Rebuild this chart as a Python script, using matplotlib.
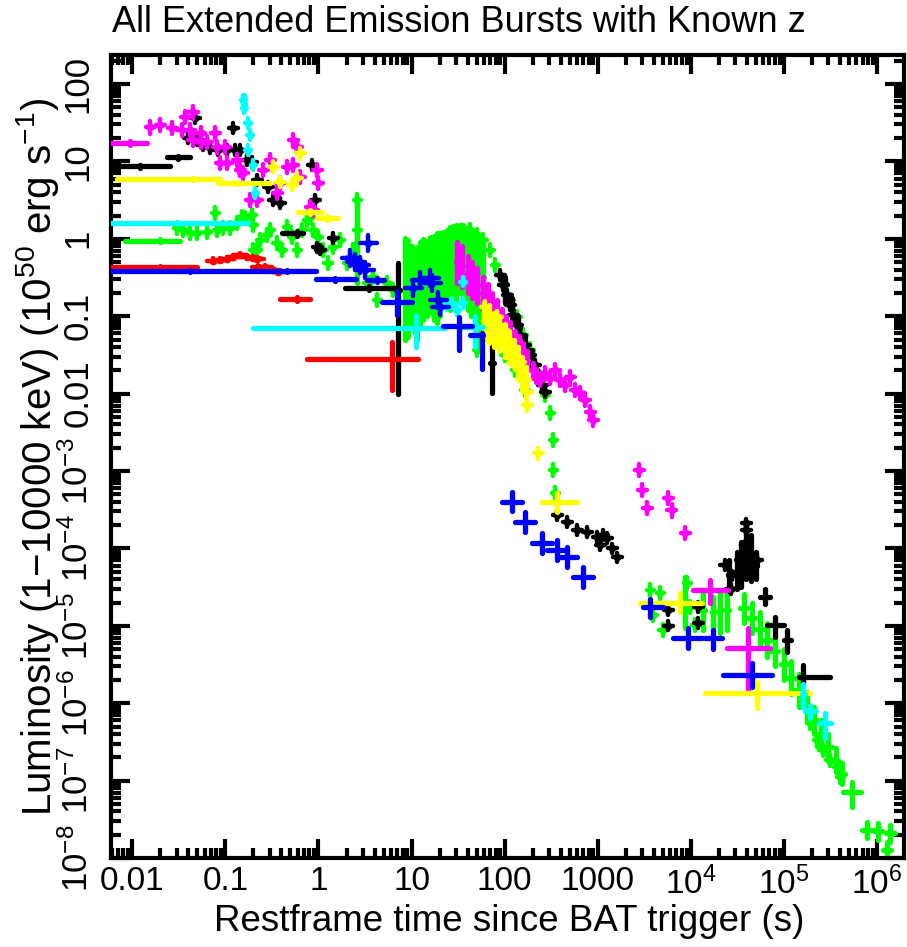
import numpy as np
import matplotlib
matplotlib.use('Agg')
import matplotlib.pyplot as plt
from matplotlib.ticker import LogLocator, FixedLocator, FuncFormatter, NullFormatter

plt.rcParams['font.family'] = ['Liberation Sans', 'DejaVu Sans']
plt.rcParams['mathtext.fontset'] = 'custom'
plt.rcParams['mathtext.rm'] = 'Liberation Sans'
plt.rcParams['mathtext.it'] = 'Liberation Sans:italic'
plt.rcParams['mathtext.bf'] = 'Liberation Sans:bold'
plt.rcParams['mathtext.default'] = 'regular'

# ---- data: dense points (t [s], L [1e50 erg/s]) and binned crosses
# bars: (t, t_lo, t_hi, L, L_lo, L_hi)
# *_err: typical half size of the small error bars (dex in t, dex in L)

black_pts = [
    (0.0475, 36.4), (0.122, 27), (0.040, 20), (0.050, 18.9), (0.058, 16.3), (0.069, 14.9),
    (0.084, 14.0), (0.105, 14.0), (0.128, 14.0), (0.145, 14.0), (0.172, 10.4), (0.194, 9.8),
    (0.22, 5.75), (0.289, 4.67), (0.327, 3.17), (0.389, 2.9), (0.858, 9.0), (0.924, 3.17),
    (0.97, 0.78), (1.045, 0.72), (1.44, 1.02),
    (89.8, 0.34), (96.6, 0.253), (107, 0.188), (115, 0.14), (124, 0.104), (137, 0.077),
    (147, 0.057), (166, 0.042), (188, 0.0315), (213, 0.0234), (230, 0.0174), (253, 0.0129),
    (273, 0.0105),
    (367, 2.7e-4), (470, 2.2e-4), (602, 1.73e-4), (771, 1.63e-4), (989, 1.40e-4), (1064, 1.1e-4),
    (1150, 1.49e-4), (1265, 1.36e-4), (1430, 1.0e-4), (1620, 7.7e-5),
    (5720, 1.6e-5), (5720, 1.0e-5), (1.2e4, 1.75e-5), (1.2e4, 1.09e-5),
    (2.3e4, 6.1e-5), (2.7e4, 3.0e-5), (2.8e4, 4.5e-5), (3.4e4, 7.1e-5), (3.6e4, 4.5e-5),
    (3.84e4, 1.1e-4), (3.94e4, 1.73e-4), (3.94e4, 2.1e-4), (4.35e4, 8.2e-5), (4.68e4, 6.1e-5),
    (5.17e4, 7.1e-5),
]
black_bars = [
    (0.0312, 0.0238, 0.042, 11.4, 10.9, 11.9),
    (0.0122, 0.0059, 0.0256, 8.7, 8.3, 9.1),
    (0.59, 0.408, 0.687, 1.19, 1.1, 1.28),
    (3.5, 1.94, 7.0, 0.231, 0.215, 0.248),
    (7.2, 6.8, 7.6, 0.22, 0.0098, 0.49),
    (73, 70, 76, 0.025, 0.0102, 0.061),
    (100, 97, 103, 0.22, 0.15, 0.32),
    (120, 116, 124, 0.12, 0.085, 0.17),
    (140, 135, 145, 0.07, 0.05, 0.1),
    (165, 159, 171, 0.042, 0.03, 0.058),
    (195, 188, 202, 0.027, 0.02, 0.037),
    (2.6e4, 2.5e4, 2.7e4, 4.5e-5, 2.8e-5, 7e-5),
    (3.1e4, 3.0e4, 3.2e4, 5e-5, 3e-5, 9e-5),
    (3.5e4, 3.4e4, 3.6e4, 6e-5, 3.2e-5, 1.2e-4),
    (3.94e4, 3.8e4, 4.1e4, 9e-5, 4e-5, 2.1e-4),
    (4.4e4, 4.25e4, 4.55e4, 7.5e-5, 3.8e-5, 1.5e-4),
    (5.0e4, 4.8e4, 5.2e4, 6e-5, 4e-5, 9e-5),
    (6.3e4, 5.6e4, 7.1e4, 2.35e-5, 1.9e-5, 3.0e-5),
    (8.1e4, 6.6e4, 1.0e5, 1.02e-5, 7.2e-6, 1.3e-5),
    (1.09e5, 9.9e4, 1.2e5, 6.6e-6, 4.6e-6, 8.8e-6),
    (1.6e5, 1.45e5, 3.14e5, 2.2e-6, 1.82e-6, 3.1e-6),
]
black_err = (0.05, 0.06)

red_pts = [
    (0.074, 0.52), (0.088, 0.53), (0.105, 0.55), (0.122, 0.58), (0.145, 0.62), (0.172, 0.58),
    (0.20, 0.565), (0.22, 0.55), (0.225, 0.43), (0.268, 0.43), (0.327, 0.395), (0.37, 0.372),
]
red_bars = [
    (0.02, 0.0059, 0.05, 0.43, 0.41, 0.45),
    (0.59, 0.389, 0.82, 0.165, 0.155, 0.175),
    (6.2, 0.758, 11.8, 0.028, 0.0111, 0.046),
]
red_err = (0.07, 0.03)

blue_pts = [
    (3.43, 0.88), (2.2, 0.565), (2.48, 0.50), (2.81, 0.46), (3.18, 0.395), (10.4, 0.231),
    (12.4, 0.294), (15.9, 0.31), (16.7, 0.269), (19.4, 0.162), (20.3, 0.132),
]
blue_bars = [
    (0.042, 0.0059, 0.26, 0.384, 0.37, 0.40),
    (0.46, 0.26, 0.93, 0.384, 0.37, 0.40),
    (1.51, 0.93, 2.5, 0.30, 0.285, 0.315),
    (4.2, 3.3, 5.0, 0.294, 0.28, 0.31),
    (7.0, 4.85, 10.2, 0.152, 0.104, 0.21),
    (32.5, 21.9, 44.9, 0.075, 0.037, 0.098),
    (57.5, 42.7, 58.9, 0.057, 0.021, 0.061),
    (121, 94, 155, 4.0e-4, 3.0e-4, 5.4e-4),
    (166, 130, 213, 2.2e-4, 1.63e-4, 2.97e-4),
    (253, 198, 324, 1.17e-4, 8.7e-5, 1.58e-4),
    (367, 287, 470, 9.5e-5, 7.0e-5, 1.28e-4),
    (470, 367, 602, 7.7e-5, 5.7e-5, 1.04e-4),
    (699, 546, 895, 4.3e-5, 3.2e-5, 5.8e-5),
    (3670, 3080, 5050, 1.75e-5, 1.3e-5, 2.2e-5),
    (9380, 6500, 1.33e4, 7.0e-6, 5.2e-6, 9.4e-6),
    (1.74e4, 1.43e4, 2.15e4, 7.0e-6, 5.0e-6, 8.8e-6),
    (4.57e4, 2.23e4, 7.48e4, 2.3e-6, 1.62e-6, 3.3e-6),
]
blue_err = (0.09, 0.1)

cyan_pts = [
    (0.156, 62), (0.16, 49), (0.176, 31.4), (0.185, 21.9), (0.176, 14.0), (0.20, 9.0),
    (0.21, 3.9), (24.2, 0.14), (27.4, 0.148), (31, 0.12), (35.9, 0.148), (35.9, 0.28),
]
cyan_bars = [
    (0.03, 0.0059, 0.176, 1.6, 1.55, 1.65),
    (0.158, 0.153, 0.163, 55, 45, 72),
    (11.2, 0.20, 23, 0.070, 0.040, 0.104),
    (48.3, 35.1, 58.9, 0.073, 0.040, 0.10),
    (1.61e5, 1.55e5, 1.67e5, 1.3e-6, 9e-7, 1.75e-6),
    (1.92e5, 1.7e5, 2.2e5, 8e-7, 6.5e-7, 9.5e-7),
    (2.78e5, 2.4e5, 3.2e5, 5.5e-7, 3.5e-7, 7.5e-7),
]
cyan_err = (0.03, 0.06)

yellow_pts = [
    (0.327, 8.5), (0.389, 5.42), (0.523, 4.96), (0.592, 6.1), (0.638, 12.8),
    (61.9, 0.132), (66.7, 0.104), (70, 0.089), (75.5, 0.066), (83.3, 0.098), (89.8, 0.057),
    (96.6, 0.066), (104, 0.042), (109, 0.049), (124, 0.040), (130, 0.0234), (137, 0.0297),
    (147, 0.0256), (154, 0.0221), (166, 0.015), (175, 0.0105), (175, 0.0071), (230, 0.0017),
]
yellow_bars = [
    (0.045, 0.0069, 0.088, 5.93, 5.7, 6.15),
    (0.134, 0.084, 0.30, 5.26, 5.05, 5.5),
    (0.82, 0.607, 1.10, 2.22, 2.1, 2.35),
    (1.24, 0.97, 1.63, 1.86, 1.75, 1.98),
    (60, 58, 62, 0.09, 0.05, 0.15),
    (68, 66, 70, 0.08, 0.045, 0.14),
    (77, 75, 79, 0.066, 0.04, 0.11),
    (88, 85, 91, 0.058, 0.035, 0.1),
    (100, 97, 103, 0.049, 0.03, 0.08),
    (112, 108, 116, 0.04, 0.025, 0.065),
    (125, 121, 129, 0.033, 0.022, 0.05),
    (140, 135, 145, 0.025, 0.015, 0.04),
    (155, 150, 160, 0.018, 0.011, 0.03),
    (170, 165, 175, 0.013, 0.008, 0.022),
    (367, 253, 602, 4.0e-4, 2.95e-4, 5.2e-4),
    (7700, 2860, 1.33e4, 2.0e-5, 1.5e-5, 2.65e-5),
    (5.17e4, 1.43e4, 1.92e5, 1.36e-6, 8.6e-7, 1.9e-6),
]
yellow_err = (0.05, 0.07)

magenta_pts = [
    (0.0156, 27.5), (0.020, 29.5), (0.027, 27), (0.034, 25.5), (0.042, 25.5), (0.037, 37.5),
    (0.045, 43), (0.054, 23.3), (0.078, 23.3), (0.045, 18.9), (0.054, 17.8), (0.064, 17.8),
    (0.082, 15.3), (0.100, 15.3), (0.088, 9.5), (0.105, 9.5), (0.134, 10.4), (0.145, 7.7),
    (0.156, 7.1), (0.185, 3.17), (0.22, 3.17), (0.255, 7.7), (0.303, 10.4), (0.389, 5.26),
    (0.36, 3.9), (0.536, 18.9), (0.592, 15.3), (0.462, 8.5), (0.536, 9.0), (0.638, 6.3),
    (0.817, 2.58), (0.879, 2.35), (0.97, 7.7), (1.0, 5.26),
    (241, 0.015), (273, 0.0185), (309, 0.0159), (350, 0.0202), (395, 0.015), (448, 0.0129),
    (507, 0.0164), (573, 0.0111), (649, 0.0102), (734, 0.0083), (830, 0.0058), (895, 0.0046),
    (2800, 1.03e-3), (3000, 5.7e-4), (3400, 3.3e-4), (5720, 4.5e-4), (6200, 3.1e-4),
    (8700, 1.58e-4),
]
magenta_bars = [
    (0.0095, 0.0059, 0.0145, 17.3, 16.5, 18.2),
    (31, 30, 32, 0.5, 0.27, 0.91),
    (35, 34, 36, 0.44, 0.24, 0.8),
    (40, 39, 41, 0.35, 0.2, 0.6),
    (45, 44, 46, 0.29, 0.17, 0.5),
    (50, 48.5, 51.5, 0.25, 0.15, 0.42),
    (59, 57, 61, 0.2, 0.12, 0.32),
    (66, 64, 68, 0.16, 0.1, 0.26),
    (74, 72, 76, 0.13, 0.08, 0.2),
    (83, 80, 86, 0.1, 0.066, 0.16),
    (93, 90, 96, 0.083, 0.055, 0.125),
    (103, 100, 106, 0.07, 0.047, 0.1),
    (115, 111, 119, 0.058, 0.04, 0.083),
    (130, 126, 134, 0.046, 0.033, 0.065),
    (142, 138, 146, 0.04, 0.029, 0.055),
    (158, 153, 163, 0.034, 0.025, 0.045),
    (175, 170, 180, 0.027, 0.02, 0.035),
    (200, 194, 206, 0.02, 0.016, 0.025),
    (215, 209, 221, 0.017, 0.014, 0.021),
    (1.62e4, 1.06e4, 2.52e4, 2.9e-5, 1.97e-5, 3.9e-5),
    (4.14e4, 2.46e4, 7.13e4, 5.2e-6, 1.48e-6, 9.4e-6),
]
magenta_err = (0.05, 0.08)

green_pts = [
    (0.0304, 1.38), (0.0353, 1.30), (0.042, 1.19), (0.050, 1.19), (0.064, 1.22), (0.078, 2.15),
    (0.082, 1.30), (0.095, 1.38), (0.113, 1.38), (0.134, 1.6), (0.152, 1.91), (0.164, 1.86),
    (0.194, 2.03), (0.20, 1.51), (0.20, 0.72), (0.22, 0.72), (0.237, 0.96), (0.282, 1.12),
    (0.303, 1.30), (0.36, 0.88), (0.408, 0.72), (0.462, 1.42), (0.523, 1.05), (0.592, 0.72),
    (0.670, 1.30), (0.758, 1.75), (0.817, 1.91), (0.879, 1.30), (1.0, 1.05), (1.13, 0.72),
    (1.27, 0.49), (1.44, 0.78), (1.71, 0.96), (2.04, 0.49), (2.37, 0.72), (2.61, 3.17),
    (2.61, 1.30), (2.61, 0.53), (2.81, 0.43), (3.34, 0.269), (3.88, 0.32), (4.28, 0.162),
    (5.48, 0.269), (6.36, 0.218),
    (42.7, 1.30), (50.8, 1.12), (50.8, 0.037), (58.9, 0.96), (65, 0.089),
    (70, 0.72), (79.3, 0.46), (83, 0.049), (96.6, 0.269), (101, 0.0315), (115, 0.162),
    (130, 0.0202), (137, 0.098), (158, 0.057), (166, 0.0111), (188, 0.037), (213, 0.0234),
    (241, 0.0164), (273, 0.0096), (309, 0.0056), (333, 0.0025), (333, 1.03e-3), (350, 5.2e-4),
    (3670, 2.9e-5), (3950, 1.38e-5), (4690, 2.65e-5), (5050, 8.8e-6), (9150, 3.6e-5),
    (9860, 1.75e-5), (1.12e4, 1.02e-5),
    (1.92e5, 5.5e-7), (2.28e5, 3.3e-7), (2.64e5, 2.5e-7), (3.14e5, 1.85e-7), (3.74e5, 1.5e-7),
    (4.03e5, 1.11e-7),
]
green_bars = [
    (0.02, 0.0084, 0.0328, 0.94, 0.9, 0.98),
    (2.61, 2.5, 2.72, 0.9, 0.269, 3.17),
    (8.55, 8.3, 8.8, 0.22, 0.049, 1.02),
    (9.2, 8.9, 9.5, 0.22, 0.054, 0.96),
    (10.0, 9.7, 10.3, 0.24, 0.07, 0.8),
    (10.8, 10.5, 11.1, 0.2, 0.06, 0.7),
    (11.5, 11.2, 11.8, 0.2, 0.049, 0.78),
    (12.4, 12.0, 12.8, 0.27, 0.08, 0.9),
    (13.4, 13.0, 13.8, 0.3, 0.09, 1.0),
    (14.5, 14.1, 14.9, 0.3, 0.1, 0.95),
    (15.9, 15.4, 16.4, 0.34, 0.11, 1.05),
    (17.3, 16.8, 17.8, 0.31, 0.09, 1.1),
    (18.9, 18.3, 19.5, 0.31, 0.082, 1.19),
    (20.3, 19.7, 20.9, 0.35, 0.1, 1.2),
    (21.9, 21.2, 22.6, 0.45, 0.162, 1.22),
    (23.9, 23.2, 24.6, 0.43, 0.14, 1.3),
    (26, 25.2, 26.8, 0.41, 0.12, 1.42),
    (28, 27.2, 28.8, 0.43, 0.13, 1.45),
    (30, 29.1, 30.9, 0.47, 0.15, 1.5),
    (33.3, 32.3, 34.3, 0.55, 0.2, 1.51),
    (36, 35, 37, 0.47, 0.15, 1.5),
    (40, 38.8, 41.2, 0.41, 0.12, 1.4),
    (44, 42.7, 45.3, 0.36, 0.1, 1.3),
    (48, 46.6, 49.4, 0.22, 0.04, 1.2),
    (53, 51.4, 54.6, 0.2, 0.037, 1.1),
    (58, 56.3, 59.7, 0.32, 0.1, 1.0),
    (8700, 8300, 9100, 2.0e-5, 9.4e-6, 4.3e-5),
    (1.36e4, 1.3e4, 1.42e4, 1.6e-5, 8.8e-6, 2.65e-5),
    (1.74e4, 1.67e4, 1.81e4, 1.5e-5, 8.8e-6, 2.35e-5),
    (2.07e4, 1.99e4, 2.15e4, 1.6e-5, 8.1e-6, 2.9e-5),
    (2.46e4, 2.37e4, 2.55e4, 1.6e-5, 8.8e-6, 2.9e-5),
    (3.7e4, 3.4e4, 4.0e4, 1.7e-5, 1.1e-5, 2.6e-5),
    (4.5e4, 4.15e4, 4.9e4, 1.26e-5, 8e-6, 2e-5),
    (5.5e4, 5.05e4, 6.0e4, 9e-6, 5.5e-6, 1.5e-5),
    (6.6e4, 6.05e4, 7.2e4, 6.6e-6, 4e-6, 1.1e-5),
    (8.0e4, 7.35e4, 8.7e4, 4.7e-6, 3e-6, 7.5e-6),
    (1.0e5, 9.2e4, 1.09e5, 3.2e-6, 2e-6, 5e-6),
    (1.2e5, 1.1e5, 1.31e5, 2.1e-6, 1.3e-6, 3.5e-6),
    (1.45e5, 1.33e5, 1.58e5, 1.5e-6, 9e-7, 2.4e-6),
    (1.75e5, 1.61e5, 1.9e5, 9e-7, 6e-7, 1.4e-6),
    (2.1e5, 1.93e5, 2.28e5, 6e-7, 4e-7, 9e-7),
    (2.5e5, 2.3e5, 2.72e5, 4e-7, 2.7e-7, 6e-7),
    (3.0e5, 2.76e5, 3.26e5, 2.7e-7, 1.8e-7, 4e-7),
    (3.6e5, 3.3e5, 3.9e5, 1.8e-7, 1.3e-7, 2.6e-7),
    (4.2e5, 3.9e5, 4.55e5, 1.2e-7, 9e-8, 1.7e-7),
    (5.42e5, 4.3e5, 6.8e5, 7.1e-8, 4.6e-8, 9.6e-8),
    (7.85e5, 6.9e5, 9.0e5, 2.3e-8, 1.8e-8, 2.9e-8),
    (1.03e6, 9.3e5, 1.14e6, 2.2e-8, 1.7e-8, 2.8e-8),
    (1.39e6, 1.25e6, 1.55e6, 2.1e-8, 1.6e-8, 2.7e-8),
    (1.29e6, 1.17e6, 1.42e6, 1.27e-8, 1.0e-8, 1.6e-8),
]
green_err = (0.04, 0.08)

x_ticks = [1e-2, 1e-1, 1, 10, 100, 1e3, 1e4, 1e5, 1e6]
y_ticks = [1e-8, 1e-7, 1e-6, 1e-5, 1e-4, 1e-3, 1e-2, 1e-1, 1, 10, 100]

fig = plt.figure(figsize=(9.07, 9.47), dpi=100)
ax = fig.add_axes([111 / 907, 89 / 947, 793 / 907, 803 / 947])
ax.set_xscale('log')
ax.set_yscale('log')


def draw(pts, bars, err, color, z):
    t, L = np.array(pts).T
    dx, dy = err
    eb = ax.errorbar(t, L, xerr=[t - t / 10**dx, t * 10**dx - t],
                     yerr=[L - L / 10**dy, L * 10**dy - L],
                     fmt='o', ms=5.5, mew=0, color=color, elinewidth=3.2,
                     capsize=0, zorder=z)
    for c in eb[2]:
        c.set_capstyle('round')
    t, tlo, thi, L, Llo, Lhi = np.array(bars).T
    eb = ax.errorbar(t, L, xerr=[t - tlo, thi - t], yerr=[L - Llo, Lhi - L],
                     fmt='none', color=color, elinewidth=3.8, capsize=0, zorder=z)
    for c in eb[2]:
        c.set_capstyle('round')


draw(green_pts, green_bars, green_err, '#00ff00', 2)
draw(black_pts, black_bars, black_err, '#000000', 3)
draw(magenta_pts, magenta_bars, magenta_err, '#ff00ff', 4)
draw(yellow_pts, yellow_bars, yellow_err, '#ffff00', 5)
draw(cyan_pts, cyan_bars, cyan_err, '#00ffff', 6)
draw(red_pts, red_bars, red_err, '#ff0000', 7)
draw(blue_pts, blue_bars, blue_err, '#0000ff', 8)

ax.set_xlim(0.0059, 1.95e6)
ax.set_ylim(1.0e-8, 237)


def logfmt(v, pos):
    e = int(round(np.log10(v)))
    if -2 <= e <= 3:
        return ('%g' % (10.0 ** e))
    return r'$10^{%d}$' % e


ax.xaxis.set_major_locator(FixedLocator(x_ticks))
ax.yaxis.set_major_locator(FixedLocator(y_ticks))
for axis in (ax.xaxis, ax.yaxis):
    axis.set_minor_locator(LogLocator(base=10, subs=np.arange(2, 10), numticks=100))
    axis.set_major_formatter(FuncFormatter(logfmt))
    axis.set_minor_formatter(NullFormatter())

ax.tick_params(which='both', direction='in', top=True, right=True, width=3, color='black')
ax.tick_params(which='major', length=14)
ax.tick_params(which='minor', length=7)
ax.tick_params(axis='x', pad=6, labelsize=24)
ax.tick_params(axis='y', pad=12, labelsize=25, labelrotation=90)
plt.setp(ax.get_yticklabels(), va='center')
for s in ax.spines.values():
    s.set_linewidth(3)

fig.text(112 / 907, 1 - 22 / 947, 'All Extended Emission Bursts with Known z',
         ha='left', va='center', fontsize=26)
fig.text(509 / 907, 1 - 921 / 947, 'Restframe time since BAT trigger (s)',
         ha='center', va='center', fontsize=26.5)
fig.text(38 / 907, 1 - 457 / 947,
         'Luminosity (1\u221210000 keV) (10$^{50}$ erg s$^{-1}$)',
         ha='center', va='center', rotation=90, fontsize=29)

fig.savefig('out.png', dpi=100)
